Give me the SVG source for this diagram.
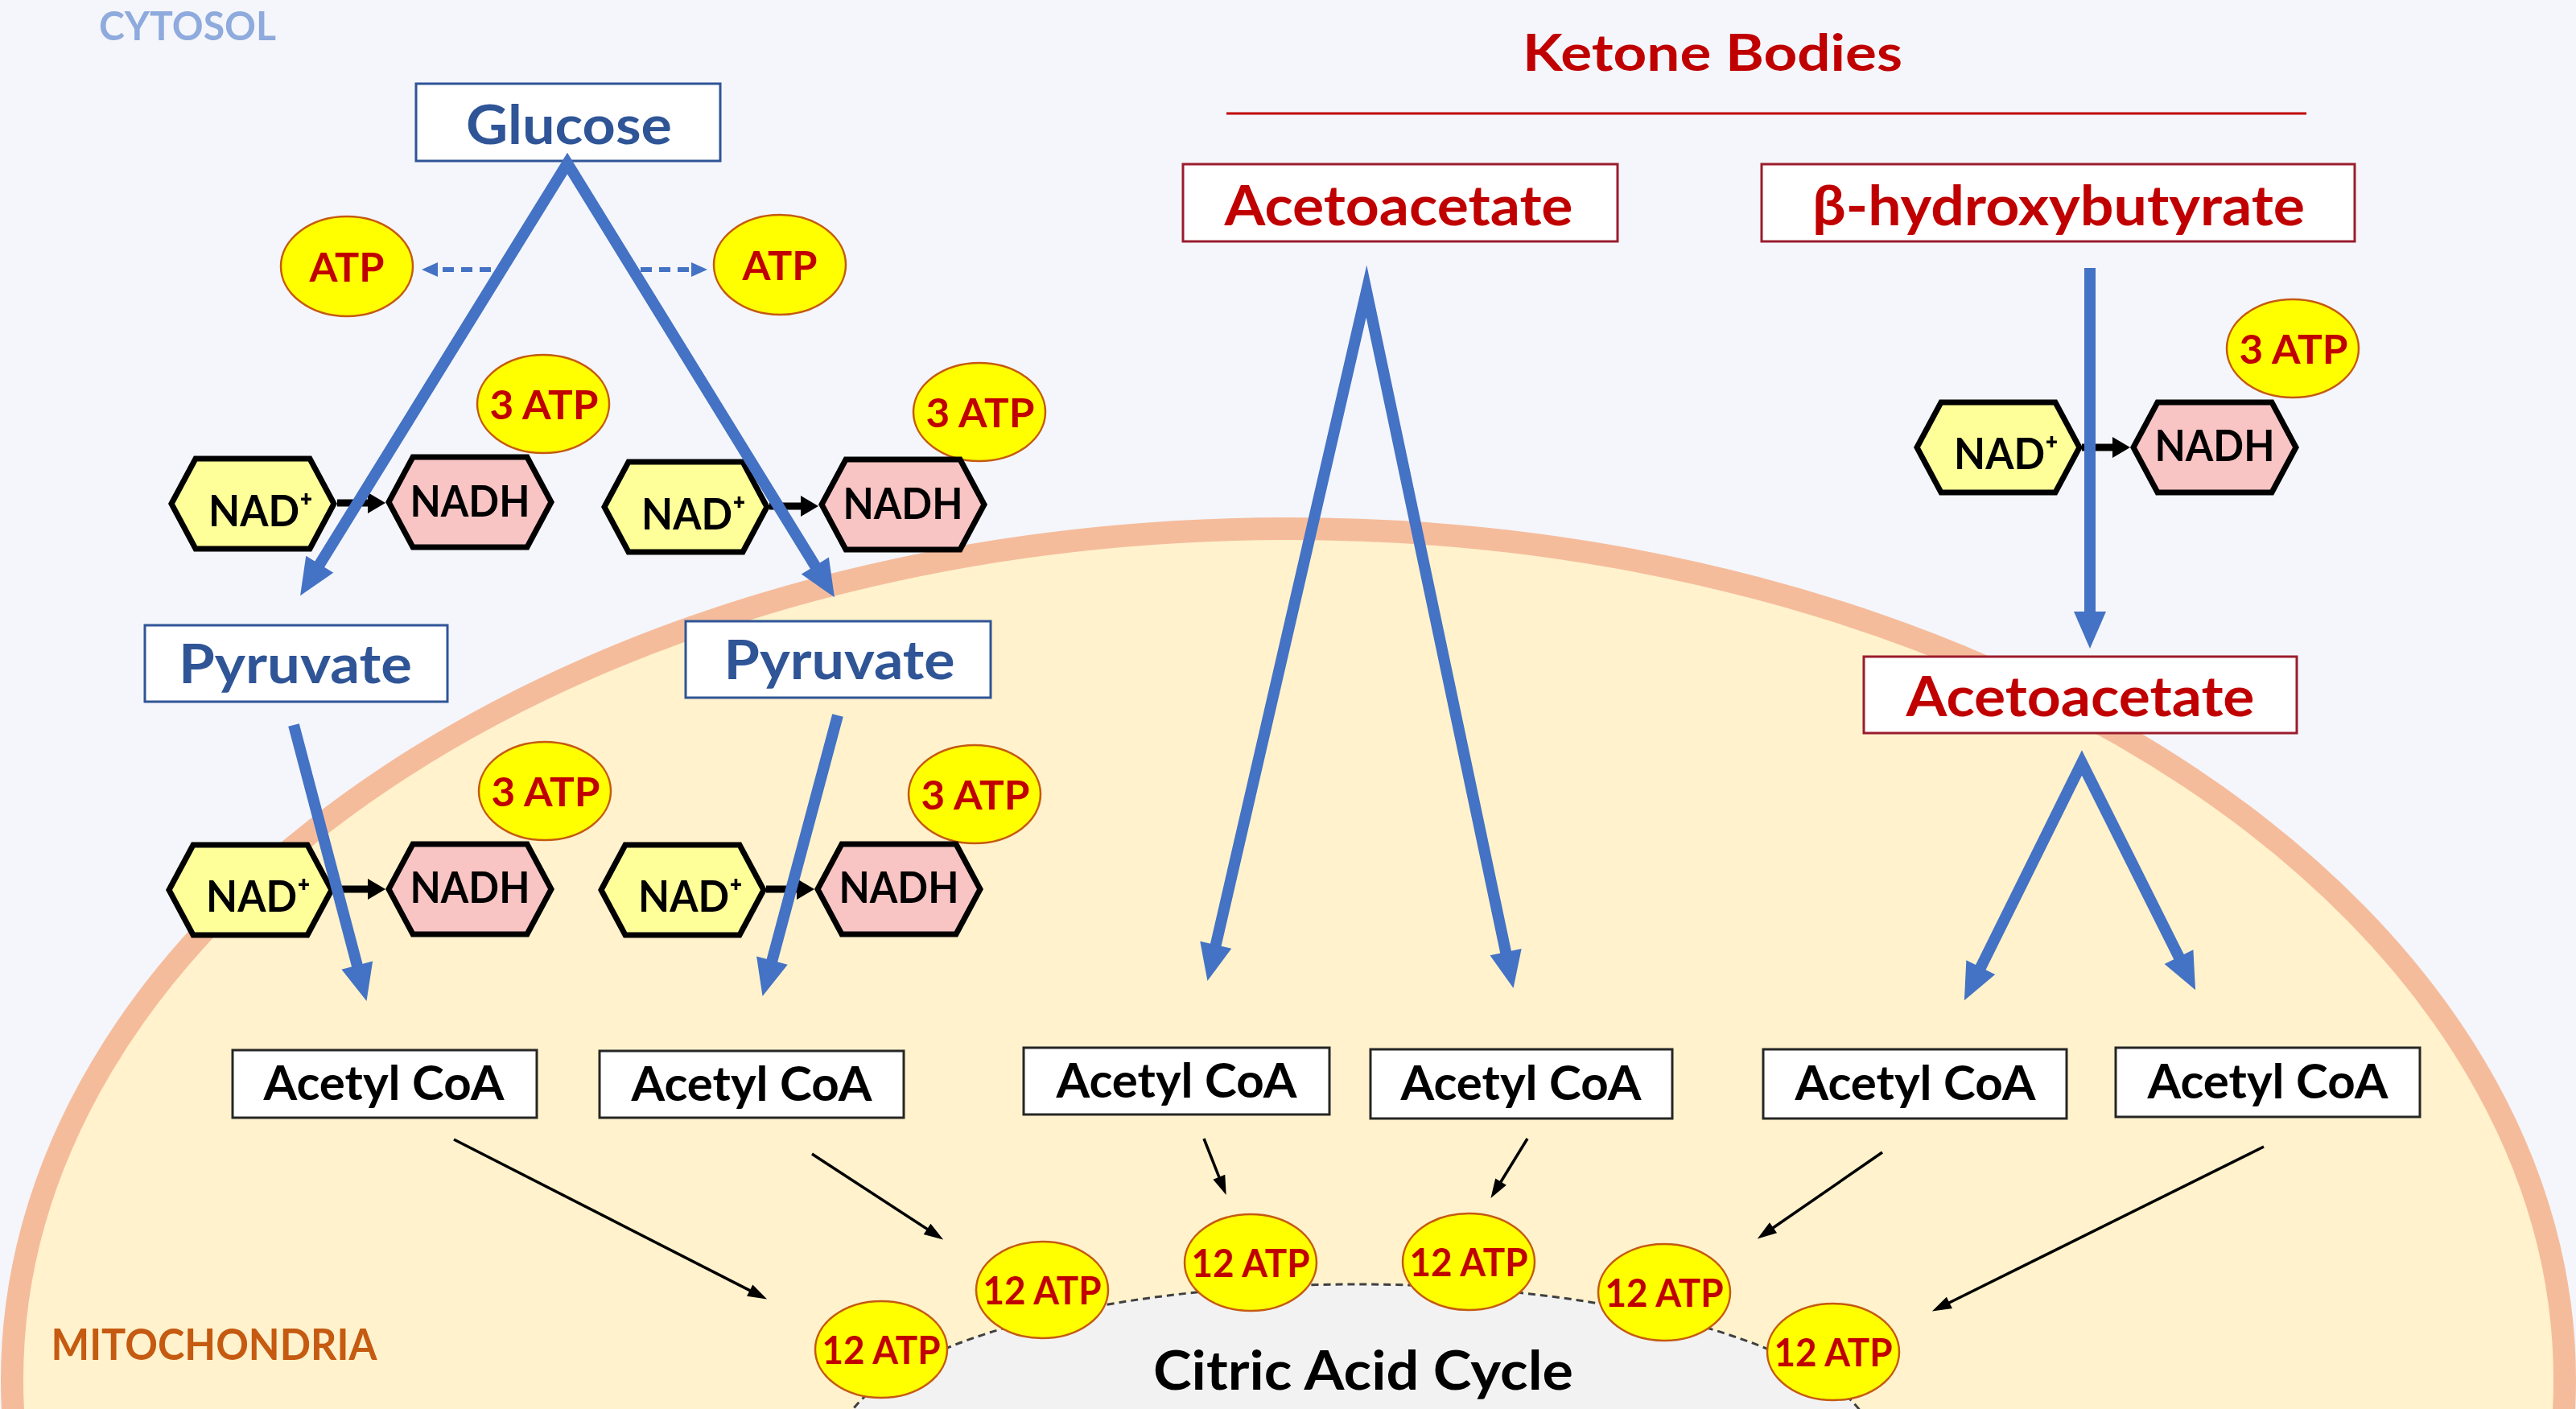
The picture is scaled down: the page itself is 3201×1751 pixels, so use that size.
<svg xmlns="http://www.w3.org/2000/svg" width="3201" height="1751" viewBox="0 0 3201 1751">
<style>
.t{font-family:Lato,"Open Sans","Liberation Sans",sans-serif;font-weight:700;text-anchor:middle}
.blue{fill:#2f5597}.red{fill:#c00000}.blk{fill:#000}
.box{fill:#fff;stroke-width:3}
.bb{stroke:#2f5597}.rb{stroke:#9b1c2c}.kb{stroke:#262626}
.atp{fill:#ffff00;stroke:#c55a11;stroke-width:2.5}
.hex{stroke:#000;stroke-width:7;stroke-linejoin:miter}
.nad{fill:#ffff99}.nadh{fill:#f9c4c4}
.ab{stroke:#4472c4;stroke-width:14;fill:none;stroke-linejoin:miter;stroke-miterlimit:20}
.at{stroke:#000;stroke-width:3.5;fill:none}
.ad{stroke:#4472c4;stroke-width:6;stroke-dasharray:14 9;fill:none}
.ak{stroke:#000;stroke-width:9;fill:none}
</style>
<defs>
<marker id="hb" markerUnits="userSpaceOnUse" markerWidth="50" markerHeight="50" refX="2" refY="25" orient="auto-start-reverse" overflow="visible"><path d="M0,5 L46,25 L0,45 z" fill="#4472c4"/></marker>
<marker id="ht" markerUnits="userSpaceOnUse" markerWidth="26" markerHeight="18" refX="1" refY="8" orient="auto" overflow="visible"><path d="M0,0 L24,8 L0,16 z" fill="#000"/></marker>
<marker id="hd" markerUnits="userSpaceOnUse" markerWidth="22" markerHeight="20" refX="1" refY="9" orient="auto" overflow="visible"><path d="M0,0 L20,9 L0,18 z" fill="#4472c4"/></marker>
<marker id="hk" markerUnits="userSpaceOnUse" markerWidth="24" markerHeight="28" refX="1" refY="13" orient="auto" overflow="visible"><path d="M0,0 L22,13 L0,26 z" fill="#000"/></marker>
<path id="hx" d="M-101,0 L-71,-56 L71,-56 L101,0 L71,56 L-71,56 Z"/>
</defs>

<g id="background">
<rect x="0" y="0" width="3201" height="1751" fill="#f4f6fb"/>
<ellipse id="mitochondria" cx="1601" cy="1715" rx="1586" ry="1058" fill="#fff2cc" stroke="#f5bc9c" stroke-width="28"/>
<ellipse id="citric-acid-cycle-area" cx="1685" cy="1802" rx="645" ry="206" fill="#f2f2f2" stroke="#404040" stroke-width="3" stroke-dasharray="9 6"/>
<text class="t" x="233" y="50" font-size="50" fill="#8faadc" textLength="220" lengthAdjust="spacingAndGlyphs">CYTOSOL</text>
<text class="t" x="266" y="1690" font-size="54" fill="#c55a11" textLength="405" lengthAdjust="spacingAndGlyphs">MITOCHONDRIA</text>
<text class="t blk" x="1694" y="1727" font-size="66" textLength="522" lengthAdjust="spacingAndGlyphs">Citric Acid Cycle</text>
<text class="t red" x="2128" y="88" font-size="63" textLength="472" lengthAdjust="spacingAndGlyphs">Ketone Bodies</text>
<line x1="1524" y1="141" x2="2866" y2="141" stroke="#c00000" stroke-width="3"/>
</g>

<g id="glucose"><rect class="box bb" x="517" y="104" width="378" height="96"/><text class="t blue" x="707" y="179" font-size="66" textLength="256" lengthAdjust="spacingAndGlyphs">Glucose</text></g>
<g id="pyruvate-1"><rect class="box bb" x="180" y="777" width="376" height="95"/><text class="t blue" x="367" y="849" font-size="66" textLength="290" lengthAdjust="spacingAndGlyphs">Pyruvate</text></g>
<g id="pyruvate-2"><rect class="box bb" x="852" y="772" width="379" height="95"/><text class="t blue" x="1043" y="844" font-size="66" textLength="287" lengthAdjust="spacingAndGlyphs">Pyruvate</text></g>
<g id="acetoacetate-1"><rect class="box rb" x="1470" y="204" width="540" height="96"/><text class="t red" x="1738" y="280" font-size="68" textLength="433" lengthAdjust="spacingAndGlyphs">Acetoacetate</text></g>
<g id="hydroxybutyrate"><rect class="box rb" x="2189" y="204" width="737" height="96"/><text class="t red" x="2558" y="280" font-size="68" textLength="612" lengthAdjust="spacingAndGlyphs">β-hydroxybutyrate</text></g>
<g id="acetoacetate-2"><rect class="box rb" x="2316" y="816" width="538" height="95"/><text class="t red" x="2585" y="890" font-size="68" textLength="433" lengthAdjust="spacingAndGlyphs">Acetoacetate</text></g>

<g id="acetylcoa-1"><rect class="box kb" x="289" y="1305" width="378" height="84"/><text class="t blk" x="477" y="1367" font-size="60" textLength="299" lengthAdjust="spacingAndGlyphs">Acetyl CoA</text></g>
<g id="acetylcoa-2"><rect class="box kb" x="745" y="1306" width="378" height="83"/><text class="t blk" x="934" y="1368" font-size="60" textLength="299" lengthAdjust="spacingAndGlyphs">Acetyl CoA</text></g>
<g id="acetylcoa-3"><rect class="box kb" x="1272" y="1302" width="380" height="83"/><text class="t blk" x="1462" y="1364" font-size="60" textLength="299" lengthAdjust="spacingAndGlyphs">Acetyl CoA</text></g>
<g id="acetylcoa-4"><rect class="box kb" x="1703" y="1304" width="375" height="86"/><text class="t blk" x="1890" y="1367" font-size="60" textLength="299" lengthAdjust="spacingAndGlyphs">Acetyl CoA</text></g>
<g id="acetylcoa-5"><rect class="box kb" x="2191" y="1304" width="377" height="86"/><text class="t blk" x="2380" y="1367" font-size="60" textLength="299" lengthAdjust="spacingAndGlyphs">Acetyl CoA</text></g>
<g id="acetylcoa-6"><rect class="box kb" x="2629" y="1302" width="378" height="86"/><text class="t blk" x="2818" y="1365" font-size="60" textLength="299" lengthAdjust="spacingAndGlyphs">Acetyl CoA</text></g>

<g id="atp-1"><ellipse class="atp" cx="431" cy="331" rx="82" ry="62"/><text class="t red" x="431" y="350" font-size="50" textLength="93" lengthAdjust="spacingAndGlyphs">ATP</text></g>
<g id="atp-2"><ellipse class="atp" cx="969" cy="329" rx="82" ry="62"/><text class="t red" x="969" y="348" font-size="50" textLength="93" lengthAdjust="spacingAndGlyphs">ATP</text></g>
<g id="atp3-1"><ellipse class="atp" cx="675" cy="502" rx="82" ry="61"/><text class="t red" x="676" y="521" font-size="50" textLength="135" lengthAdjust="spacingAndGlyphs">3 ATP</text></g>
<g id="atp3-2"><ellipse class="atp" cx="1217" cy="512" rx="82" ry="61"/><text class="t red" x="1218" y="531" font-size="50" textLength="135" lengthAdjust="spacingAndGlyphs">3 ATP</text></g>
<g id="atp3-3"><ellipse class="atp" cx="677" cy="983" rx="82" ry="61"/><text class="t red" x="678" y="1002" font-size="50" textLength="135" lengthAdjust="spacingAndGlyphs">3 ATP</text></g>
<g id="atp3-4"><ellipse class="atp" cx="1211" cy="987" rx="82" ry="61"/><text class="t red" x="1212" y="1006" font-size="50" textLength="135" lengthAdjust="spacingAndGlyphs">3 ATP</text></g>
<g id="atp3-5"><ellipse class="atp" cx="2849" cy="433" rx="82" ry="61"/><text class="t red" x="2850" y="452" font-size="50" textLength="135" lengthAdjust="spacingAndGlyphs">3 ATP</text></g>

<g id="hex-nad-1"><use href="#hx" class="hex nad" x="314" y="626"/><text class="t blk" x="324" y="654" font-size="54" textLength="130" lengthAdjust="spacingAndGlyphs">NAD⁺</text></g>
<g id="hex-nadh-1"><use href="#hx" class="hex nadh" x="584" y="624"/><text class="t blk" x="584" y="642" font-size="53" textLength="149" lengthAdjust="spacingAndGlyphs">NADH</text></g>
<g id="hex-nad-2"><use href="#hx" class="hex nad" x="852" y="630"/><text class="t blk" x="862" y="658" font-size="54" textLength="130" lengthAdjust="spacingAndGlyphs">NAD⁺</text></g>
<g id="hex-nadh-2"><use href="#hx" class="hex nadh" x="1122" y="627"/><text class="t blk" x="1122" y="645" font-size="53" textLength="149" lengthAdjust="spacingAndGlyphs">NADH</text></g>
<g id="hex-nad-3"><use href="#hx" class="hex nad" x="311" y="1106"/><text class="t blk" x="321" y="1133" font-size="54" textLength="130" lengthAdjust="spacingAndGlyphs">NAD⁺</text></g>
<g id="hex-nadh-3"><use href="#hx" class="hex nadh" x="584" y="1105"/><text class="t blk" x="584" y="1122" font-size="53" textLength="149" lengthAdjust="spacingAndGlyphs">NADH</text></g>
<g id="hex-nad-4"><use href="#hx" class="hex nad" x="848" y="1106"/><text class="t blk" x="858" y="1133" font-size="54" textLength="130" lengthAdjust="spacingAndGlyphs">NAD⁺</text></g>
<g id="hex-nadh-4"><use href="#hx" class="hex nadh" x="1117" y="1105"/><text class="t blk" x="1117" y="1122" font-size="53" textLength="149" lengthAdjust="spacingAndGlyphs">NADH</text></g>
<g id="hex-nad-5"><use href="#hx" class="hex nad" x="2483" y="556"/><text class="t blk" x="2493" y="583" font-size="54" textLength="130" lengthAdjust="spacingAndGlyphs">NAD⁺</text></g>
<g id="hex-nadh-5"><use href="#hx" class="hex nadh" x="2752" y="556"/><text class="t blk" x="2752" y="573" font-size="53" textLength="149" lengthAdjust="spacingAndGlyphs">NADH</text></g>

<g id="atp12-1"><ellipse class="atp" cx="1095" cy="1677" rx="82" ry="60"/><text class="t red" x="1095" y="1695" font-size="47" textLength="147" lengthAdjust="spacingAndGlyphs">12 ATP</text></g>
<g id="atp12-2"><ellipse class="atp" cx="1295" cy="1603" rx="82" ry="60"/><text class="t red" x="1295" y="1621" font-size="47" textLength="147" lengthAdjust="spacingAndGlyphs">12 ATP</text></g>
<g id="atp12-3"><ellipse class="atp" cx="1554" cy="1569" rx="82" ry="60"/><text class="t red" x="1554" y="1587" font-size="47" textLength="147" lengthAdjust="spacingAndGlyphs">12 ATP</text></g>
<g id="atp12-4"><ellipse class="atp" cx="1825" cy="1568" rx="82" ry="60"/><text class="t red" x="1825" y="1586" font-size="47" textLength="147" lengthAdjust="spacingAndGlyphs">12 ATP</text></g>
<g id="atp12-5"><ellipse class="atp" cx="2068" cy="1606" rx="82" ry="60"/><text class="t red" x="2068" y="1624" font-size="47" textLength="147" lengthAdjust="spacingAndGlyphs">12 ATP</text></g>
<g id="atp12-6"><ellipse class="atp" cx="2278" cy="1680" rx="82" ry="60"/><text class="t red" x="2278" y="1698" font-size="47" textLength="147" lengthAdjust="spacingAndGlyphs">12 ATP</text></g>

<g id="connectors">
<line class="ak" x1="419" y1="625" x2="458" y2="625" marker-end="url(#hk)"/>
<line class="ak" x1="956" y1="629" x2="996" y2="629" marker-end="url(#hk)"/>
<line class="ak" x1="415" y1="1105" x2="458" y2="1105" marker-end="url(#hk)"/>
<line class="ak" x1="952" y1="1105" x2="991" y2="1105" marker-end="url(#hk)"/>
<line class="ak" x1="2587" y1="556" x2="2626" y2="556" marker-end="url(#hk)"/>
<line class="ad" x1="610" y1="335" x2="543" y2="335" marker-end="url(#hd)"/>
<line class="ad" x1="796" y1="335" x2="860" y2="335" marker-end="url(#hd)"/>
<path class="ab" d="M396.2,702.9 L705,203 L1013.9,704.8" marker-start="url(#hb)" marker-end="url(#hb)"/>
<line class="ab" x1="365" y1="901" x2="444.3" y2="1201.5" marker-end="url(#hb)"/>
<line class="ab" x1="1041" y1="889" x2="958.9" y2="1195.6" marker-end="url(#hb)"/>
<path class="ab" d="M1510.3,1176.2 L1698,362 L1871.5,1185" marker-start="url(#hb)" marker-end="url(#hb)"/>
<line class="ab" x1="2597" y1="333" x2="2597" y2="762" marker-end="url(#hb)"/>
<path class="ab" d="M2460.4,1203.8 L2587,948 L2708.4,1190.9" marker-start="url(#hb)" marker-end="url(#hb)"/>
<line class="at" x1="564" y1="1416" x2="932.6" y2="1604.1" marker-end="url(#ht)"/>
<line class="at" x1="1009" y1="1434" x2="1152.9" y2="1527.9" marker-end="url(#ht)"/>
<line class="at" x1="1496" y1="1415" x2="1515.2" y2="1463.7" marker-end="url(#ht)"/>
<line class="at" x1="1898" y1="1415" x2="1864.5" y2="1469.5" marker-end="url(#ht)"/>
<line class="at" x1="2339" y1="1432" x2="2202.7" y2="1526.3" marker-end="url(#ht)"/>
<line class="at" x1="2813" y1="1425" x2="2421.5" y2="1619.3" marker-end="url(#ht)"/>
</g>
</svg>
